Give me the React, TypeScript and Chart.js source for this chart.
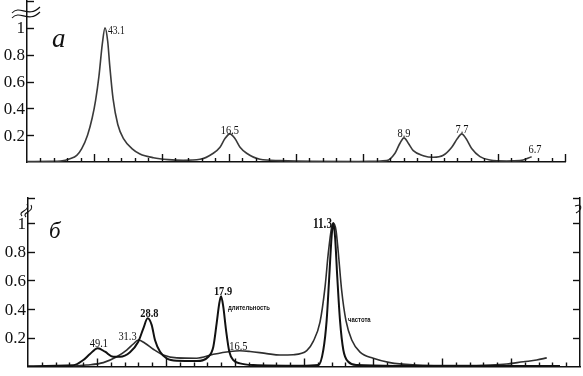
import React, { useEffect, useRef } from 'react';
import { Chart, registerables } from 'chart.js';

Chart.register(...registerables);

// ---------- data ----------
// x axis: 40 tick intervals (no numeric labels in the original)
const xMin = 0;
const xMax = 40;
const yTickValues = [0.2, 0.4, 0.6, 0.8, 1];
const yTickLabels = ['0.2', '0.4', '0.6', '0.8', '1'];

// panel а : spectrum
const topX = [0, 1.7, 2.5, 3.2, 3.7, 4.07, 4.5, 4.85, 5.1, 5.35, 5.6, 5.8, 6.0, 6.15, 6.4, 6.75, 7.2, 7.8, 8.4, 9.4, 10.5, 11.6, 12.86, 13.85, 14.35, 14.72, 15.09, 15.46, 15.84, 16.33, 17.32, 18.81, 21.26, 24.5, 26.0, 26.74, 27.36, 27.73, 28.03, 28.35, 28.72, 29.46, 30.21, 30.95, 31.58, 32.0, 32.32, 32.64, 33.06, 33.68, 34.42, 35.66, 36.65, 37.52];
const topY = [0.003, 0.005, 0.008, 0.025, 0.05, 0.1, 0.2, 0.33, 0.46, 0.64, 0.88, 1.0, 0.9, 0.72, 0.47, 0.28, 0.17, 0.1, 0.06, 0.032, 0.018, 0.013, 0.02, 0.065, 0.11, 0.175, 0.21, 0.175, 0.11, 0.065, 0.02, 0.01, 0.005, 0.004, 0.006, 0.01, 0.065, 0.14, 0.18, 0.14, 0.085, 0.047, 0.035, 0.05, 0.11, 0.175, 0.21, 0.175, 0.1, 0.04, 0.015, 0.008, 0.01, 0.04];
const topLabelText = ['43.1', '16.5', '8.9', '7.7', '6.7'];
const topLabelX = [6.02, 15.09, 28.03, 32.34, 37.77];
const topLabelY = [0.955, 0.212, 0.186, 0.215, 0.067];

// panel б : длительность (narrow peaks) and частота (broad)
const durX = [0, 3.28, 4.01, 4.49, 5.05, 5.58, 6.18, 6.67, 7.39, 7.99, 8.36, 8.67, 8.96, 9.2, 9.57, 10.05, 10.78, 12.22, 13.07, 13.43, 13.67, 13.86, 13.99, 14.15, 14.35, 14.59, 14.88, 15.36, 16.33, 19.71, 21.04, 21.4, 21.64, 21.83, 22.0, 22.12, 22.25, 22.41, 22.61, 22.85, 23.21, 23.82, 26.96, 38.55];
const durY = [0.002, 0.008, 0.045, 0.087, 0.127, 0.103, 0.068, 0.068, 0.1, 0.173, 0.266, 0.336, 0.29, 0.185, 0.103, 0.057, 0.04, 0.038, 0.068, 0.138, 0.3, 0.44, 0.49, 0.417, 0.254, 0.103, 0.045, 0.022, 0.01, 0.005, 0.01, 0.115, 0.32, 0.626, 0.905, 1.0, 0.905, 0.626, 0.32, 0.115, 0.033, 0.01, 0.004, 0.003];
const freqX = [3.26, 4.25, 5.46, 6.43, 7.15, 7.63, 7.99, 8.48, 9.08, 9.8, 10.78, 12.22, 13.43, 14.64, 15.36, 16.09, 17.3, 18.26, 19.22, 20.2, 20.67, 21.16, 21.52, 21.76, 22.0, 22.12, 22.32, 22.49, 22.73, 23.04, 23.46, 24.06, 25.02, 26.23, 27.92, 31.52, 33.48, 34.69, 35.89, 36.86, 37.59];
const freqY = [0.003, 0.01, 0.027, 0.068, 0.115, 0.157, 0.185, 0.162, 0.12, 0.08, 0.06, 0.058, 0.085, 0.105, 0.11, 0.105, 0.09, 0.08, 0.082, 0.11, 0.175, 0.31, 0.55, 0.79, 0.97, 1.0, 0.95, 0.79, 0.53, 0.32, 0.185, 0.1, 0.057, 0.027, 0.012, 0.006, 0.01, 0.017, 0.033, 0.045, 0.06];
const botLabelText = ['49.1', '31.3', '28.8', '17.9', '16.5', '11.3', 'длительность', 'частота'];
const botLabelX = [5.14, 7.21, 8.8, 14.13, 15.25, 22.03, 14.49, 23.19];
const botLabelY = [0.136, 0.185, 0.345, 0.498, 0.115, 0.965, 0.394, 0.31];

// ---------- styles ----------
const SERIF = '"Liberation Serif", "DejaVu Serif", serif';
const SANS = '"Liberation Sans", "DejaVu Sans", sans-serif';
type LStyle = { font: string; align: CanvasTextAlign; sx: number };
const topLabelStyle: LStyle[] = [
  { font: `12px ${SERIF}`, align: 'left', sx: 0.8 },
  { font: `13px ${SERIF}`, align: 'center', sx: 0.8 },
  { font: `13px ${SERIF}`, align: 'center', sx: 0.8 },
  { font: `13px ${SERIF}`, align: 'center', sx: 0.8 },
  { font: `13px ${SERIF}`, align: 'center', sx: 0.8 },
];
const botLabelStyle: LStyle[] = [
  { font: `13px ${SERIF}`, align: 'center', sx: 0.8 },
  { font: `13px ${SERIF}`, align: 'center', sx: 0.8 },
  { font: `bold 13px ${SERIF}`, align: 'center', sx: 0.8 },
  { font: `bold 13px ${SERIF}`, align: 'center', sx: 0.8 },
  { font: `13px ${SERIF}`, align: 'center', sx: 0.8 },
  { font: `bold 14px ${SERIF}`, align: 'right', sx: 0.8 },
  { font: `bold 7px ${SANS}`, align: 'left', sx: 0.85 },
  { font: `bold 7px ${SANS}`, align: 'left', sx: 0.85 },
];

function pts(xs: number[], ys: number[]) {
  return xs.map((x, i) => ({ x, y: ys[i] }));
}

function drawText(ctx: CanvasRenderingContext2D, text: string, px: number, py: number, st: LStyle) {
  ctx.save();
  ctx.translate(px, py);
  ctx.scale(st.sx, 1);
  ctx.font = st.font;
  ctx.fillStyle = '#111';
  ctx.textAlign = st.align;
  ctx.textBaseline = 'alphabetic';
  ctx.fillText(text, 0, 0);
  ctx.restore();
}

type DecorCfg = {
  labels: string[];
  lx: number[];
  ly: number[];
  styles: LStyle[];
  letter: string;
  letterX: number;
  letterY: number;
  letterFont: string;
  rightAxis: boolean;
  breakKind: 'wide' | 'small';
};

function makeDecor(cfg: DecorCfg) {
  return {
    id: 'decor',
    afterDraw(chart: any) {
      const { ctx, chartArea: a, scales } = chart;
      const x = scales.x;
      const y = scales.y;
      ctx.save();
      ctx.strokeStyle = '#111';
      ctx.lineWidth = 1.4;
      // x ticks (pointing up, inside)
      for (let i = xMin + 1; i <= xMax; i++) {
        if (cfg.rightAxis && i === xMax) continue;
        const px = Math.round(x.getPixelForValue(i)) + 0.5;
        const len = i % 5 === 0 ? 8 : 4;
        ctx.beginPath();
        ctx.moveTo(px, a.bottom);
        ctx.lineTo(px, a.bottom - len);
        ctx.stroke();
      }
      // y ticks + labels
      const yt = [...yTickValues, y.max];
      yt.forEach((v) => {
        const py = Math.round(y.getPixelForValue(v)) + 0.5;
        ctx.beginPath();
        ctx.moveTo(a.left, py);
        ctx.lineTo(a.left + 7, py);
        ctx.stroke();
        if (cfg.rightAxis) {
          ctx.beginPath();
          ctx.moveTo(a.right, py);
          ctx.lineTo(a.right - 7, py);
          ctx.stroke();
        }
      });
      ctx.font = `17px ${SERIF}`;
      ctx.fillStyle = '#111';
      ctx.textAlign = 'right';
      ctx.textBaseline = 'middle';
      yTickValues.forEach((v, i) => {
        ctx.fillText(yTickLabels[i], a.left - 2, y.getPixelForValue(v) + 1);
      });
      // axis break marks
      ctx.lineWidth = 1.1;
      if (cfg.breakKind === 'wide') {
        for (const dy of [0, 5]) {
          const cy = a.top + 10 + dy;
          ctx.beginPath();
          ctx.moveTo(a.left - 15, cy + 2);
          ctx.bezierCurveTo(a.left - 7, cy - 7, a.left + 1, cy + 8, a.left + 13, cy - 4);
          ctx.stroke();
        }
      } else {
        const drawS = (cx: number, cy: number) => {
          ctx.beginPath();
          ctx.moveTo(cx - 3, cy + 6);
          ctx.bezierCurveTo(cx - 8, cy + 1, cx + 6, cy + 1, cx + 2, cy - 6);
          ctx.stroke();
        };
        drawS(a.left - 3, a.top + 12);
        drawS(a.left + 1, a.top + 13);
        if (cfg.rightAxis) {
          ctx.beginPath();
          ctx.moveTo(a.right - 5, a.top + 8);
          ctx.bezierCurveTo(a.right + 2, a.top + 5, a.right + 3, a.top + 11, a.right - 4, a.top + 15);
          ctx.stroke();
        }
      }
      // panel letter
      ctx.font = cfg.letterFont;
      ctx.textAlign = 'left';
      ctx.textBaseline = 'alphabetic';
      ctx.fillText(cfg.letter, x.getPixelForValue(cfg.letterX), y.getPixelForValue(cfg.letterY));
      // peak labels
      cfg.labels.forEach((t, i) => {
        drawText(ctx, t, x.getPixelForValue(cfg.lx[i]), y.getPixelForValue(cfg.ly[i]), cfg.styles[i]);
      });
      ctx.restore();
    },
  };
}

function baseScales(yMax: number, rightAxis: boolean) {
  const border = { display: true, color: '#111', width: 1.5 };
  const s: any = {
    x: {
      type: 'linear', min: xMin, max: xMax,
      ticks: { display: false }, grid: { display: false, drawTicks: false }, border,
      afterFit: (sc: any) => { sc.height = 0; },
    },
    y: {
      type: 'linear', min: 0, max: yMax,
      ticks: { display: false }, grid: { display: false, drawTicks: false }, border,
      afterFit: (sc: any) => { sc.width = 0; },
    },
  };
  if (rightAxis) {
    s.y2 = {
      type: 'linear', position: 'right', min: 0, max: yMax,
      ticks: { display: false }, grid: { display: false, drawTicks: false }, border,
      afterFit: (sc: any) => { sc.width = 0; },
    };
  }
  return s;
}

function TopPanel() {
  const ref = useRef<HTMLCanvasElement>(null);
  useEffect(() => {
    const chart = new Chart(ref.current!, {
      type: 'line',
      data: {
        datasets: [{
          data: pts(topX, topY), borderColor: '#3a3a3a', borderWidth: 1.6,
          pointRadius: 0, cubicInterpolationMode: 'monotone', fill: false,
        }],
      },
      options: {
        responsive: false, animation: false, devicePixelRatio: 1,
        layout: { padding: { left: 27, right: 18, top: 1, bottom: 8 } },
        plugins: { legend: { display: false }, tooltip: { enabled: false } },
        scales: baseScales(1.2, false),
      },
      plugins: [makeDecor({
        labels: topLabelText, lx: topLabelX, ly: topLabelY, styles: topLabelStyle,
        letter: 'а', letterX: 1.86, letterY: 0.86, letterFont: `italic 27px ${SERIF}`,
        rightAxis: false, breakKind: 'wide',
      })],
    } as any);
    return () => chart.destroy();
  }, []);
  return <canvas ref={ref} width={583} height={170} style={{ position: 'absolute', left: 0, top: 0 }} />;
}

function BottomPanel() {
  const ref = useRef<HTMLCanvasElement>(null);
  useEffect(() => {
    const chart = new Chart(ref.current!, {
      type: 'line',
      data: {
        datasets: [
          {
            label: 'длительность', data: pts(durX, durY), borderColor: '#111', borderWidth: 2,
            pointRadius: 0, cubicInterpolationMode: 'monotone', fill: false,
          },
          {
            label: 'частота', data: pts(freqX, freqY), borderColor: '#2e2e2e', borderWidth: 1.6,
            pointRadius: 0, cubicInterpolationMode: 'monotone', fill: false,
          },
        ],
      },
      options: {
        responsive: false, animation: false, devicePixelRatio: 1,
        layout: { padding: { left: 28, right: 3, top: 18, bottom: 9.5 } },
        plugins: { legend: { display: false }, tooltip: { enabled: false } },
        scales: baseScales(1.175, true),
      },
      plugins: [makeDecor({
        labels: botLabelText, lx: botLabelX, ly: botLabelY, styles: botLabelStyle,
        letter: 'б', letterX: 1.52, letterY: 0.895, letterFont: `italic 23px ${SERIF}`,
        rightAxis: true, breakKind: 'small',
      })],
    } as any);
    return () => chart.destroy();
  }, []);
  return <canvas ref={ref} width={583} height={196} style={{ position: 'absolute', left: 0, top: 180 }} />;
}

export default function App() {
  return (
    <div style={{ position: 'fixed', left: 0, top: 0, width: 583, height: 376, background: '#fff', overflow: 'hidden' }}>
      <TopPanel />
      <BottomPanel />
    </div>
  );
}
